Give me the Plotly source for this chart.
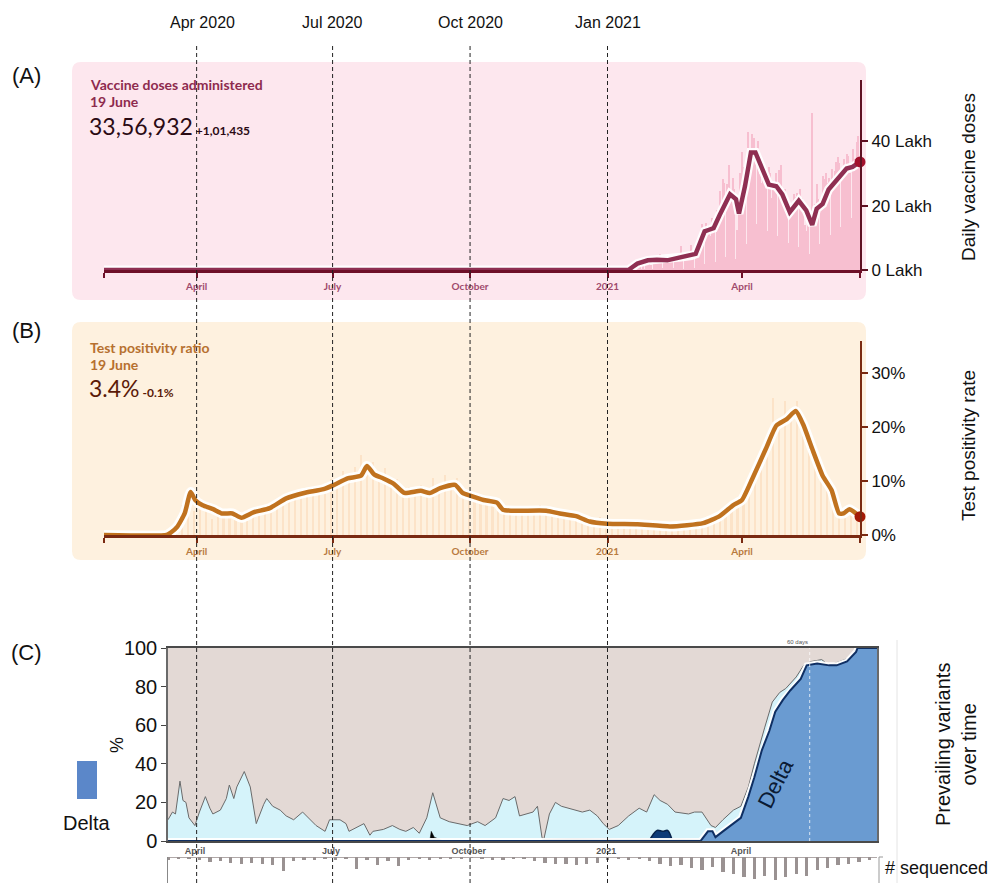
import pandas as pd
import plotly.graph_objects as go

W, H = 998, 883


def fx(px):
    return px / W


def fy(py):
    return 1 - py / H


# ---------------- reference dates shared by all panels ----------------
marker_dates = ["2020-04-01", "2020-07-01", "2020-10-01", "2021-01-01"]
marker_labels = ["Apr 2020", "Jul 2020", "Oct 2020", "Jan 2021"]

month_ticks = ["2020-04-01", "2020-07-01", "2020-10-01", "2021-01-01", "2021-04-01"]
month_text = ["April", "July", "October", "2021", "April"]

# ---------------- (A) daily vaccine doses, lakh ----------------
vax_daily_start = "2021-01-16"
vax_daily = [
    1.9, 0.2, 1.5, 1.2, 1.4, 1.7, 1.9,
    1.2, 0.3, 1.9, 0.1, 3.0, 3.4, 4.3,
    1.6, 0.2, 1.9, 2.5, 4.1, 4.2, 5.1,
    2.5, 0.5, 4.6, 3.0, 4.0, 3.8, 4.5,
    3.2, 0.4, 3.5, 3.9, 4.2, 5.1, 7.5,
    3.6, 0.3, 4.1, 4.4, 4.6, 5.5, 7.8,
    4.8, 0.6, 4.3, 6.1, 9.5, 10.4, 14.2,
    12.3, 1.8, 14.5, 12.0, 13.9, 10.5, 16.1,
    15.1, 2.6, 18.5, 16.2, 24.5, 21.0, 28.4,
    27.0, 4.1, 26.8, 32.6, 24.9, 22.1, 28.5,
    25.0, 3.5, 12.3, 20.6, 30.0, 36.7, 32.1,
    30.2, 8.0, 43.0, 33.4, 37.9, 42.1, 41.0,
    36.5, 14.3, 40.0, 29.9, 27.0, 33.1, 30.7,
    25.7, 12.0, 32.0, 30.0, 22.5, 27.0, 25.3,
    30.0, 10.5, 31.0, 32.5, 21.8, 24.0, 25.0,
    17.8, 8.5, 19.0, 20.4, 17.0, 23.5, 22.8,
    24.0, 7.2, 25.1, 22.5, 19.0, 14.0, 12.0,
    16.1, 5.0, 16.9, 48.7, 14.1, 20.4, 26.7,
    22.0, 8.0, 22.5, 29.2, 28.4, 30.2, 27.0,
    28.6, 10.8, 31.5, 24.8, 30.6, 33.5, 35.2,
    33.1, 13.4, 29.0, 34.6, 31.8, 36.0, 35.5,
    30.2, 16.0, 37.5, 33.0, 34.5, 39.9, 41.5,
    35.0,
]
vax_avg_dates = [
    "2020-01-30", "2021-01-15", "2021-01-18", "2021-01-21", "2021-01-28",
    "2021-02-03", "2021-02-10", "2021-02-19", "2021-02-26", "2021-03-01",
    "2021-03-04", "2021-03-07", "2021-03-10", "2021-03-13", "2021-03-17",
    "2021-03-20", "2021-03-24", "2021-03-28", "2021-03-30", "2021-04-03",
    "2021-04-07", "2021-04-10", "2021-04-15", "2021-04-19", "2021-04-24",
    "2021-04-28", "2021-05-03", "2021-05-09", "2021-05-14", "2021-05-18",
    "2021-05-21", "2021-05-25", "2021-05-29", "2021-06-05", "2021-06-10",
    "2021-06-14", "2021-06-19",
]
vax_avg = [
    0, 0, 1.0, 2.0, 3.0, 3.2, 3.0, 4.0, 4.5, 5.0,
    8.5, 12.0, 12.5, 13.0, 17.0, 20.0, 23.5, 22.0, 17.5, 26.0,
    36.5, 36.5, 31.0, 26.5, 26.0, 23.5, 18.0, 21.5, 18.5, 14.0,
    19.0, 20.5, 25.0, 28.5, 31.5, 32.0, 33.56932,
]
vax_change = 101435

# ---------------- (B) test positivity ratio, % ----------------
tpr_bar_start = "2020-03-10"
tpr_bars = [
    0.3, 0.8, 2.0, 5.5, 7.0, 4.5,
    6.8, 5.0, 3.0, 5.2, 3.6, 4.5, 3.5,
    3.8, 4.6, 3.9, 5.3, 4.6, 5.8, 5.6, 7.3,
    6.2, 7.8, 7.2, 8.3, 7.6, 9.0, 8.0, 10.3,
    8.9, 11.8, 10.1, 12.6, 14.8, 11.6, 13.5,
    10.2, 12.4, 9.0, 10.4, 7.5, 8.9, 7.6, 9.2,
    7.4, 10.5, 8.0, 11.2, 8.6, 10.6, 6.9, 8.4,
    6.6, 7.4, 5.9, 6.8, 5.2, 4.4, 5.2,
    4.0, 5.0, 4.2, 4.9, 5.5, 4.6, 4.2, 4.5,
    3.6, 4.0, 3.2, 3.4, 2.6, 2.5, 3.4, 1.9,
    2.5, 1.8, 2.3, 1.8, 2.2, 1.7, 2.4,
    1.5, 1.8, 1.4, 1.9, 1.5, 2.1, 1.8,
    2.4, 2.0, 2.8, 3.0, 3.8, 4.8, 5.4, 6.4,
    7.8, 9.2, 12.5, 14.0, 17.5, 25.5, 20.9, 24.8,
    22.4, 24.9, 19.4, 17.0, 14.0, 11.5, 9.4,
    6.4, 4.3, 5.1, 4.0, 3.2,
]
tpr_dates = [
    "2020-01-30", "2020-03-12", "2020-03-15", "2020-03-19", "2020-03-24",
    "2020-03-28", "2020-03-31", "2020-04-05", "2020-04-12", "2020-04-18",
    "2020-04-25", "2020-05-01", "2020-05-09", "2020-05-20", "2020-05-31",
    "2020-06-12", "2020-06-25", "2020-07-02", "2020-07-11", "2020-07-20",
    "2020-07-24", "2020-07-29", "2020-08-04", "2020-08-11", "2020-08-18",
    "2020-08-29", "2020-09-04", "2020-09-11", "2020-09-21", "2020-09-26",
    "2020-10-01", "2020-10-10", "2020-10-19", "2020-10-23", "2020-11-01",
    "2020-11-21", "2020-11-30", "2020-12-11", "2020-12-20", "2021-01-01",
    "2021-01-21", "2021-02-12", "2021-03-06", "2021-03-17", "2021-03-26",
    "2021-04-01", "2021-04-08", "2021-04-17", "2021-04-24", "2021-05-01",
    "2021-05-07", "2021-05-12", "2021-05-18", "2021-05-25", "2021-05-31",
    "2021-06-05", "2021-06-08", "2021-06-12", "2021-06-19",
]
tpr_avg = [
    0, 0, 0.5, 1.5, 4.0,
    8.0, 6.5, 5.5, 4.8, 4.0,
    4.0, 3.2, 4.2, 5.0, 6.8,
    7.8, 8.5, 9.3, 10.5, 11.0,
    12.8, 11.2, 10.5, 9.5, 7.8,
    8.2, 7.8, 8.7, 9.3, 7.8,
    7.3, 6.5, 6.0, 4.7, 4.5,
    4.5, 4.0, 3.5, 2.5, 2.1,
    2.0, 1.6, 2.2, 3.5, 5.5,
    6.5, 10.5, 16.0, 20.3, 21.5,
    23.0, 20.5, 16.0, 11.0, 8.3,
    4.0, 4.0, 4.8, 3.4,
]
tpr_change = -0.1

# ---------------- (C) variant shares, % ----------------
other_dates = [
    "2020-03-14", "2020-03-17", "2020-03-19", "2020-03-22", "2020-03-24",
    "2020-03-26", "2020-03-28", "2020-04-01", "2020-04-04", "2020-04-08",
    "2020-04-11", "2020-04-13", "2020-04-18", "2020-04-22", "2020-04-24",
    "2020-04-27", "2020-04-29", "2020-05-04", "2020-05-08", "2020-05-12",
    "2020-05-17", "2020-05-19", "2020-05-23", "2020-05-28", "2020-06-01",
    "2020-06-06", "2020-06-12", "2020-06-17", "2020-06-21", "2020-06-27",
    "2020-06-30", "2020-07-07", "2020-07-11", "2020-07-13", "2020-07-20",
    "2020-07-23", "2020-07-27", "2020-07-29", "2020-08-05", "2020-08-11",
    "2020-08-16", "2020-08-20", "2020-08-25", "2020-08-29", "2020-09-03",
    "2020-09-07", "2020-09-12", "2020-09-18", "2020-09-30", "2020-10-07",
    "2020-10-12", "2020-10-19", "2020-10-24", "2020-10-28", "2020-11-01",
    "2020-11-04", "2020-11-13", "2020-11-16", "2020-11-19", "2020-11-20",
    "2020-11-24", "2020-11-28", "2020-12-02", "2020-12-07", "2020-12-12",
    "2020-12-16", "2020-12-21", "2020-12-26", "2020-12-30", "2021-01-03",
    "2021-01-09", "2021-01-16", "2021-01-23", "2021-01-28", "2021-02-02",
    "2021-02-06", "2021-02-11", "2021-02-16", "2021-02-25", "2021-03-01",
    "2021-03-06", "2021-03-12", "2021-03-15", "2021-03-20", "2021-03-27",
    "2021-04-01", "2021-04-06", "2021-04-10", "2021-04-17", "2021-04-22",
    "2021-04-27", "2021-05-01", "2021-05-08", "2021-05-13", "2021-05-18",
    "2021-05-25", "2021-05-30", "2021-06-06", "2021-06-13", "2021-06-17",
    "2021-07-01",
]
other_top = [
    11, 15, 14, 31, 21,
    20, 12, 8, 15, 23,
    17, 14, 16, 22, 29,
    22, 28, 36, 28, 9,
    19, 22, 18, 16, 13,
    11, 15, 11, 8, 5,
    11, 11, 9, 5, 8,
    9, 3, 5, 6, 8,
    6, 5, 7, 4, 12,
    25, 12, 10, 8, 10,
    8, 12, 22, 21, 23,
    13, 15, 18, 2, 0,
    14, 20, 18, 17, 16,
    15, 16, 13, 9, 6,
    8, 13, 17, 15, 24,
    21, 19, 15, 14, 15,
    15, 8, 7, 11, 16,
    18, 28, 40, 59, 72,
    77, 79, 85, 91, 93,
    94, 91, 93, 95, 100,
    100,
]
delta_dates = [
    "2020-03-14", "2021-03-05", "2021-03-06", "2021-03-10", "2021-03-13",
    "2021-03-15", "2021-03-20", "2021-03-27", "2021-04-01", "2021-04-06",
    "2021-04-10", "2021-04-15", "2021-04-20", "2021-04-24", "2021-04-29",
    "2021-05-04", "2021-05-11", "2021-05-15", "2021-05-22", "2021-05-30",
    "2021-06-04", "2021-06-11", "2021-06-17", "2021-06-18", "2021-07-01",
]
delta_share = [
    0, 0, 1, 5, 5,
    2, 5, 9, 12, 23,
    33, 47, 57, 67, 73,
    78, 84, 91, 92, 91,
    91, 93, 98, 100, 100,
]
early_dates = ["2021-01-30", "2021-02-01", "2021-02-04", "2021-02-08", "2021-02-11", "2021-02-14"]
early_share = [0.5, 3.0, 5.5, 5.0, 5.5, 0.5]
minor_dates = [
    "2020-09-05", "2020-09-06", "2020-09-08", "2020-09-12", "2020-09-14",
    "2020-11-19", "2020-11-20", "2020-12-10", "2021-01-10", "2021-02-20",
    "2021-03-06", "2021-03-07",
]
minor_share = [0, 5, 2, 0.5, 0, 0, 1, 1.3, 1, 1, 0.8, 0]

seq_start = "2020-03-14"
seq_weekly = [
    3, 2, 2, 3, 5, 4, 6, 7, 6, 8, 9, 15, 4, 3, 3, 2, 3, 2, 13, 3,
    9, 4, 10, 3, 2, 3, 2, 2, 2, 1, 2, 3, 3, 2, 2, 4, 6, 8, 7, 9,
    8, 6, 3, 2, 3, 2, 4, 8, 10, 9, 12, 14, 11, 16, 18, 22, 24, 20, 25, 22,
    18, 20, 14, 12, 9, 8, 5, 3,
]
sixty_day_mark = "2021-05-17"


def indian(n):
    s = str(abs(int(n)))
    if len(s) <= 3:
        return s
    head, tail = s[:-3], s[-3:]
    groups = []
    while len(head) > 2:
        groups.insert(0, head[-2:])
        head = head[:-2]
    if head:
        groups.insert(0, head)
    return ",".join(groups + [tail])


def rounded_box(x0, y0, x1, y1, r=9):
    """Rounded rectangle path in paper coordinates from pixel corners."""
    rx, ry = r / W, r / H
    a, b, c, d = fx(x0), fx(x1), fy(y1), fy(y0)  # left, right, bottom, top
    return (f"M{a + rx},{d} L{b - rx},{d} Q{b},{d} {b},{d - ry} "
            f"L{b},{c + ry} Q{b},{c} {b - rx},{c} L{a + rx},{c} "
            f"Q{a},{c} {a},{c + ry} L{a},{d - ry} Q{a},{d} {a + rx},{d} Z")


def note(px, py, text, size, family=None, color="#111", xanchor="center", angle=0):
    return dict(x=fx(px), y=fy(py), xref="paper", yref="paper", text=text,
                xanchor=xanchor, yanchor="middle", textangle=angle, showarrow=False,
                font=dict(family=family or SANS, size=size, color=color))


SANS = "Liberation Sans, Arial, sans-serif"
ROUND = "Lato, Open Sans, sans-serif"

vax_x = pd.date_range(vax_daily_start, periods=len(vax_daily), freq="D")
tpr_bar_x = pd.date_range(tpr_bar_start, periods=len(tpr_bars), freq="4D")
seq_x = pd.date_range(seq_start, periods=len(seq_weekly), freq="7D")
DAY_MS = 86400000

fig = go.Figure()

# ---- (A) vaccine doses ----
fig.add_trace(go.Bar(x=vax_x, y=vax_daily, marker_color="#f7bfd0", marker_line_width=0,
                     width=0.7 * DAY_MS, xaxis="x", yaxis="y"))
fig.add_trace(go.Scatter(x=vax_avg_dates, y=vax_avg, mode="lines",
                         line=dict(color="rgba(255,255,255,0.95)", width=9),
                         xaxis="x", yaxis="y"))
fig.add_trace(go.Scatter(x=vax_avg_dates, y=vax_avg, mode="lines",
                         line=dict(color="#8f2f52", width=4.5),
                         xaxis="x", yaxis="y"))
fig.add_trace(go.Scatter(x=[vax_avg_dates[-1]], y=[vax_avg[-1]], mode="markers",
                         marker=dict(color="#a3102c", size=11), cliponaxis=False,
                         xaxis="x", yaxis="y"))

# ---- (B) test positivity ----
fig.add_trace(go.Bar(x=tpr_bar_x, y=tpr_bars, marker_color="rgba(248,190,140,0.28)",
                     marker_line_width=0, width=1.4 * DAY_MS, xaxis="x2", yaxis="y2"))
fig.add_trace(go.Scatter(x=tpr_dates, y=tpr_avg, mode="lines", line_shape="spline",
                         line=dict(color="rgba(255,255,255,0.95)", width=10, smoothing=0.5),
                         xaxis="x2", yaxis="y2"))
fig.add_trace(go.Scatter(x=tpr_dates, y=tpr_avg, mode="lines", line_shape="spline",
                         line=dict(color="#c0721f", width=4.5, smoothing=0.5),
                         xaxis="x2", yaxis="y2"))
fig.add_trace(go.Scatter(x=[tpr_dates[-1]], y=[tpr_avg[-1]], mode="markers",
                         marker=dict(color="#a31a06", size=11), cliponaxis=False,
                         xaxis="x2", yaxis="y2"))

# ---- (C) variants ----
fig.add_trace(go.Scatter(x=other_dates, y=other_top, mode="lines", fill="tozeroy",
                         fillcolor="#d5f3fa", line=dict(color="#6a6a6a", width=1),
                         xaxis="x3", yaxis="y3"))
fig.add_trace(go.Scatter(x=minor_dates, y=minor_share, mode="lines", fill="tozeroy",
                         fillcolor="#050505", line=dict(color="#050505", width=0.5),
                         xaxis="x3", yaxis="y3"))
fig.add_trace(go.Scatter(x=early_dates, y=early_share, mode="lines", fill="tozeroy",
                         fillcolor="#0d3b78", line=dict(color="#06224a", width=1.5),
                         line_shape="spline", xaxis="x3", yaxis="y3"))
fig.add_trace(go.Scatter(x=delta_dates, y=delta_share, mode="lines",
                         line=dict(color="rgba(255,255,255,0.95)", width=6),
                         xaxis="x3", yaxis="y3"))
fig.add_trace(go.Scatter(x=delta_dates, y=delta_share, mode="lines", fill="tozeroy",
                         fillcolor="#6a9bd1", line=dict(color="#0f2f63", width=2),
                         xaxis="x3", yaxis="y3"))

# ---- sequenced counts (drawn downward) ----
fig.add_trace(go.Bar(x=seq_x, y=seq_weekly, marker_color="#9a9292", marker_line_width=0,
                     width=2.2 * DAY_MS, xaxis="x4", yaxis="y4"))

shapes = [
    dict(type="path", path=rounded_box(72, 62, 866, 300), xref="paper", yref="paper",
         fillcolor="#fde7ee", line=dict(width=0), layer="below"),
    dict(type="path", path=rounded_box(72, 322, 866, 560), xref="paper", yref="paper",
         fillcolor="#fef1df", line=dict(width=0), layer="below"),
    dict(type="rect", xref="x3 domain", yref="y3 domain", x0=0, x1=1, y0=0, y1=1,
         fillcolor="#e3d9d5", line=dict(width=0), layer="below"),
    dict(type="line", xref="x3", yref="y3", x0=sixty_day_mark, x1=sixty_day_mark,
         y0=0, y1=100, line=dict(color="rgba(255,255,255,0.75)", width=1, dash="dot")),
    dict(type="line", xref="paper", yref="paper", x0=fx(897), x1=fx(897),
         y0=0, y1=fy(640), line=dict(color="#e4e4e4", width=1)),
    dict(type="line", xref="paper", yref="paper", x0=fx(879), x1=fx(879),
         y0=fy(883), y1=fy(857), line=dict(color="#999", width=1)),
    dict(type="line", xref="paper", yref="paper", x0=fx(879), x1=fx(883),
         y0=fy(857), y1=fy(857), line=dict(color="#999", width=1)),
    dict(type="rect", xref="paper", yref="paper", x0=fx(77), x1=fx(97),
         y0=fy(799), y1=fy(761), fillcolor="#5b87c9", line=dict(width=0)),
]
for d in marker_dates:
    shapes.append(dict(type="line", xref="x", yref="paper", x0=d, x1=d, y0=0, y1=fy(46),
                       line=dict(color="#222", width=1, dash="4px,3px"), layer="above"))

annotations = []
for i, (d, lab) in enumerate(zip(marker_dates, marker_labels)):
    annotations.append(dict(x=d, xref="x", y=fy(22), yref="paper", text=lab, showarrow=False,
                            xanchor="center", yanchor="middle", xshift=6 if i == 0 else 0,
                            font=dict(family=SANS, size=16, color="#111")))
for lab, py in (("(A)", 76), ("(B)", 331), ("(C)", 652)):
    annotations.append(note(26, py, lab, 22))

# headline for panel A
annotations += [
    note(88, 84, "<b>Vaccine doses administered</b>", 14, ROUND, "#8e2b4e", "left"),
    note(88, 102, "<b>19 June</b>", 14, ROUND, "#8e2b4e", "left"),
    note(87, 126, (f"{indian(round(vax_avg[-1] * 1e5))}"
                   f"<span style='font-size:12px'><b> +{indian(vax_change)}</b></span>"),
         23, ROUND, "#2b0a14", "left"),
]
# headline for panel B
annotations += [
    note(88, 347, "<b>Test positivity ratio</b>", 14, ROUND, "#b6702f", "left"),
    note(88, 364, "<b>19 June</b>", 14, ROUND, "#b6702f", "left"),
    note(87, 388, (f"{tpr_avg[-1]:.1f}%"
                   f"<span style='font-size:12px'><b> {tpr_change:+.1f}%</b></span>"),
         23, ROUND, "#5b1a08", "left"),
]
# side titles and legend
annotations += [
    note(968, 177, "Daily vaccine doses", 19, angle=-90),
    note(968, 446, "Test positivity rate", 19, angle=-90),
    note(956, 745, "Prevailing variants<br>over time", 20, angle=-90),
    note(883, 868, "# sequenced", 18, xanchor="left"),
    note(117, 745, "%", 18, angle=-90),
    note(87, 823, "Delta", 20),
    dict(x="2021-04-24", y=30, xref="x3", yref="y3", text="Delta", textangle=-63,
         xanchor="center", yanchor="middle", showarrow=False,
         font=dict(family=SANS, size=22, color="#0b1a33")),
    dict(x="2021-05-09", y=100, xref="x3", yref="y3", xanchor="center", yanchor="bottom",
         yshift=1, text="60 days", showarrow=False,
         font=dict(family=SANS, size=6, color="#555")),
]

date_ticks_a = ["2020-01-30"] + month_ticks + ["2021-06-19"]
date_text_a = [""] + month_text + [""]


def panel_xaxis(domain_anchor, color, label_color):
    return dict(domain=[fx(104), fx(860)], anchor=domain_anchor, type="date",
                range=["2020-01-30", "2021-06-19"], showgrid=False, zeroline=False,
                showline=True, linecolor=color, linewidth=3, ticks="outside",
                ticklen=5, tickwidth=2, tickcolor=color, tickvals=date_ticks_a,
                ticktext=date_text_a, automargin=False,
                tickfont=dict(family=ROUND, size=10, color=label_color, weight="bold"))


fig.update_layout(
    width=W, height=H, margin=dict(l=0, r=0, t=0, b=0, pad=0, autoexpand=False),
    paper_bgcolor="white", plot_bgcolor="rgba(0,0,0,0)", showlegend=False,
    bargap=0, barmode="overlay",
    xaxis=panel_xaxis("y", "#6e1028", "#a04a6c"),
    yaxis=dict(domain=[fy(270), fy(80)], anchor="x", side="right", range=[0, 59],
               tickvals=[0, 20, 40], ticktext=["0 Lakh", "20 Lakh", "40 Lakh"],
               showgrid=False, zeroline=False, showline=True, linecolor="#5e1122",
               linewidth=2, ticks="outside", ticklen=6, tickwidth=1.5, tickcolor="#5e1122",
               automargin=False, tickfont=dict(family=SANS, size=17, color="#111")),
    xaxis2=panel_xaxis("y2", "#7a2a12", "#b87a3e"),
    yaxis2=dict(domain=[fy(535), fy(341)], anchor="x2", side="right", range=[0, 36],
                tickvals=[0, 10, 20, 30], ticktext=["0%", "10%", "20%", "30%"],
                showgrid=False, zeroline=False, showline=True, linecolor="#7a2a12",
                linewidth=2, ticks="outside", ticklen=6, tickwidth=1.5, tickcolor="#7a2a12",
                automargin=False, tickfont=dict(family=SANS, size=17, color="#111")),
    xaxis3=dict(domain=[fx(168), fx(877)], anchor="y3", type="date",
                range=["2020-03-14", "2021-07-01"], showgrid=False, zeroline=False,
                showline=True, mirror=True, linecolor="#4a4a4a", linewidth=1.5,
                ticks="", tickvals=month_ticks, ticktext=month_text, automargin=False,
                tickfont=dict(family=SANS, size=9, color="#555", weight="bold")),
    yaxis3=dict(domain=[fy(841), fy(648)], anchor="x3", range=[0, 100],
                tickvals=[0, 20, 40, 60, 80, 100], showgrid=False, zeroline=False,
                showline=True, mirror=True, linecolor="#6a6a6a", linewidth=1.5,
                ticks="outside", ticklen=5, tickcolor="#444", automargin=False,
                tickfont=dict(family=SANS, size=20, color="#111")),
    xaxis4=dict(domain=[fx(168), fx(877)], anchor="y4", matches="x3", type="date",
                showticklabels=False, showgrid=False, zeroline=False, showline=False,
                ticks="", automargin=False),
    yaxis4=dict(domain=[0, fy(857)], anchor="x4", range=[28, 0], showticklabels=False,
                showgrid=False, zeroline=True, zerolinecolor="#b0a8a8", zerolinewidth=1,
                showline=True, linecolor="#888", linewidth=1, ticks="", automargin=False),
    shapes=shapes,
    annotations=annotations,
)

fig.write_html("out.html")
